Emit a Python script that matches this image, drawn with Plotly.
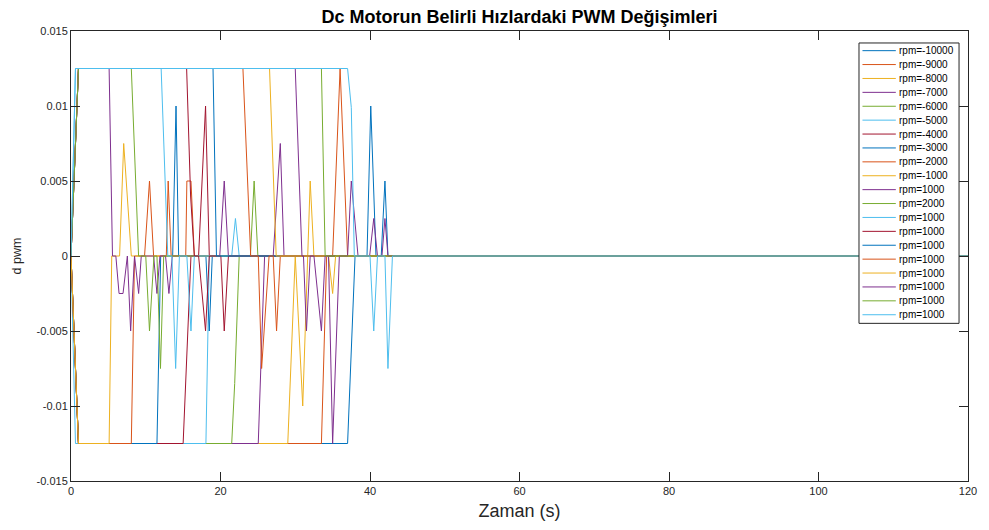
import plotly.graph_objects as go

# ---------------- data ----------------
names = ["rpm=-10000", "rpm=-9000", "rpm=-8000", "rpm=-7000", "rpm=-6000",
         "rpm=-5000", "rpm=-4000", "rpm=-3000", "rpm=-2000", "rpm=-1000",
         "rpm=1000", "rpm=2000", "rpm=1000", "rpm=1000", "rpm=1000",
         "rpm=1000", "rpm=1000", "rpm=1000", "rpm=1000", "rpm=1000"]

t_01 = [0, 1, 37.0, 38.0, 39.6, 40.1, 40.8, 41.5, 42.0, 42.4, 120]
d_01 = [0, -0.0125, -0.0125, 0, 0, 0.01, 0, 0, 0.005, 0, 0]

t_02 = [0, 1, 33.5, 34.2, 35.0, 36.0, 37.0, 120]
d_02 = [0, -0.0125, -0.0125, 0, 0, 0.0125, 0, 0]

t_03 = [0, 1, 29.0, 30.0, 31.0, 32.0, 32.5, 120]
d_03 = [0, -0.0125, -0.0125, 0, -0.01, 0.005, 0, 0]

t_04 = [0, 1, 25.05, 25.9, 27.05, 28.0, 28.5, 120]
d_04 = [0, -0.0125, -0.0125, 0, 0, 0.0075, 0, 0]

t_05 = [0, 1, 21.5, 21.9, 22.5, 24.0, 24.5, 25.0, 120]
d_05 = [0, -0.0125, -0.0125, -0.0085, 0, 0, 0.005, 0, 0]

t_06 = [0, 0.6, 18.05, 18.5, 21.5, 22.0, 22.5, 120]
d_06 = [0, -0.0125, -0.0125, 0, 0, 0.0025, 0, 0]

t_07 = [0, 1, 15.0, 16.05, 17.07, 18.0, 18.5, 120]
d_07 = [0, -0.0125, -0.0125, 0, 0, 0.01, 0, 0]

t_08 = [0, 1, 11.5, 12.0, 13.6, 14.05, 14.4, 18.05, 18.5, 18.9, 120]
d_08 = [0, -0.0125, -0.0125, 0, 0, 0.01, 0, 0, -0.005, 0, 0]

t_09 = [0, 1, 8.07, 8.5, 9.84, 10.5, 11.05, 12.75, 13.0, 13.4, 15.35, 15.5, 16.05, 16.5, 120]
d_09 = [0, -0.0125, -0.0125, 0, 0, 0.005, 0, 0, 0.005, 0, 0, 0.005, 0.005, 0, 0]

t_10 = [0, 1, 5.1, 5.45, 6.5, 7.05, 8.07, 120]
d_10 = [0, -0.0125, -0.0125, 0, 0, 0.0075, 0, 0]

t_11 = [0, 1, 5.1, 5.55, 6.0, 6.43, 6.96, 7.54, 7.98, 8.5, 9.05, 9.4, 11.05, 11.5,
        11.9, 12.65, 13.1, 13.55, 19.9, 20.5, 21.05, 120]
d_11 = [0, 0.0125, 0.0125, 0, 0, -0.0025, -0.0025, 0, -0.005, 0, -0.0025, 0, 0, -0.0025,
        0, 0, -0.0025, 0, 0, 0.005, 0, 0]

t_12 = [0, 1, 8.07, 9.04, 10.0, 10.5, 11.1, 11.5, 11.97, 12.4, 120]
d_12 = [0, 0.0125, 0.0125, 0, 0, -0.005, 0, 0, -0.0075, 0, 0]

t_13 = [0, 0.6, 12.06, 12.95, 13.5, 14.0, 14.5, 15.5, 16.05, 16.5, 120]
d_13 = [0, 0.0125, 0.0125, 0, 0, -0.0075, 0, 0, -0.005, 0, 0]

t_14 = [0, 1, 15.47, 16.0, 16.5, 17.07, 18.0, 18.5, 20.05, 20.5, 21.06, 120]
d_14 = [0, 0.0125, 0.0125, 0.004, 0, 0, -0.005, 0, 0, -0.005, 0, 0]

t_15 = [0, 1, 19.0, 19.46, 120]
d_15 = [0, 0.0125, 0.0125, 0, 0]

t_16 = [0, 1, 23.0, 24.04, 25.05, 25.5, 26.5, 27.05, 27.5, 28.0, 120]
d_16 = [0, 0.0125, 0.0125, 0, 0, -0.0075, 0, 0, -0.005, 0, 0]

t_17 = [0, 1, 26.56, 27.45, 34.45, 35.0, 35.4, 120]
d_17 = [0, 0.0125, 0.0125, 0, 0, -0.0025, 0, 0]

t_18 = [0, 1, 30.0, 30.9, 31.1, 31.5, 32.0, 32.5, 33.5, 34.0, 34.45, 35.0, 35.9,
        37.0, 37.5, 38.4, 39.95, 40.5, 41.0, 41.6, 42.0, 42.4, 120]
d_18 = [0, 0.0125, 0.0125, 0, 0, -0.005, 0, 0, -0.005, 0, 0, -0.0125, 0,
        0, 0.005, 0, 0, 0.0025, 0, 0, 0.0025, 0, 0]

t_19 = [0, 1, 33.5, 34.0, 120]
d_19 = [0, 0.0125, 0.0125, 0, 0]

t_20 = [0, 0.6, 37.0, 37.5, 37.9, 40.0, 40.5, 41.0, 42.0, 42.4, 43.0, 120]
d_20 = [0, 0.0125, 0.0125, 0.0099, 0, 0, -0.005, 0, 0, -0.0075, 0, 0]

times = [t_01, t_02, t_03, t_04, t_05, t_06, t_07, t_08, t_09, t_10,
         t_11, t_12, t_13, t_14, t_15, t_16, t_17, t_18, t_19, t_20]
values = [d_01, d_02, d_03, d_04, d_05, d_06, d_07, d_08, d_09, d_10,
          d_11, d_12, d_13, d_14, d_15, d_16, d_17, d_18, d_19, d_20]

x_ticks = [0, 20, 40, 60, 80, 100, 120]
y_ticks = [-0.015, -0.01, -0.005, 0, 0.005, 0.01, 0.015]
y_tick_text = ["-0.015", "-0.01", "-0.005", "0", "0.005", "0.01", "0.015"]

# ---------------- styling ----------------
palette = ["#0072BD", "#D95319", "#EDB120", "#7E2F8E", "#77AC30", "#4DBEEE", "#A2142F"]
FONT = "Liberation Sans, Arial, Helvetica, sans-serif"
AX = "#262626"

W, H = 989, 530
ML, MR, MT, MB = 71, 17, 31, 48
PW, PH = W - ML - MR, H - MT - MB


def px_x(px):
    return (px - ML) / PW


def px_y(py):
    return (H - MB - py) / PH


fig = go.Figure()
for i, (tt, dd) in enumerate(zip(times, values)):
    fig.add_trace(go.Scatter(x=tt, y=dd, mode="lines", name=names[i],
                             line=dict(color=palette[i % 7], width=1),
                             showlegend=False))

# manual MATLAB-style legend (compact rows)
LX0, LX1, LY0, LY1 = 862.5, 963.0, 43, 324
ROW0, ROWSTEP = 50.7, 13.93
SX0, SX1, TX = 866, 899.5, 901.5
shapes = [dict(type="rect", xref="paper", yref="paper",
               x0=px_x(LX0), x1=px_x(LX1), y0=px_y(LY1), y1=px_y(LY0),
               line=dict(color=AX, width=1), fillcolor="white", layer="above")]
annotations = []
for i, nm in enumerate(names):
    yy = px_y(ROW0 + i * ROWSTEP)
    shapes.append(dict(type="line", xref="paper", yref="paper",
                       x0=px_x(SX0), x1=px_x(SX1), y0=yy, y1=yy,
                       line=dict(color=palette[i % 7], width=1), layer="above"))
    annotations.append(dict(xref="paper", yref="paper", x=px_x(TX), y=yy,
                            xanchor="left", yanchor="middle", showarrow=False,
                            text=nm, font=dict(family=FONT, size=10, color="#000000"),
                            borderpad=0))

fig.update_layout(
    width=W, height=H,
    margin=dict(l=ML, r=MR, t=MT, b=MB, pad=0),
    paper_bgcolor="white", plot_bgcolor="white",
    font=dict(family=FONT, color=AX),
    title=dict(text="<b>Dc Motorun Belirli Hızlardaki PWM Değişimleri</b>",
               x=0.5, xref="paper", xanchor="center",
               y=1 - 17 / H, yref="container", yanchor="middle",
               font=dict(family=FONT, size=18, color="#000000")),
    shapes=shapes,
    annotations=annotations,
    showlegend=False,
)
fig.update_xaxes(range=[0, 120], tickmode="array", tickvals=x_ticks,
                 ticks="inside", ticklen=9, tickwidth=1, tickcolor=AX,
                 showline=True, linecolor=AX, linewidth=1, mirror="ticks",
                 showgrid=False, zeroline=False,
                 tickfont=dict(family=FONT, size=11, color=AX),
                 title=dict(text="Zaman (s)", standoff=8,
                            font=dict(family=FONT, size=18, color=AX)))
fig.update_yaxes(range=[-0.015, 0.015], tickmode="array", tickvals=y_ticks,
                 ticktext=y_tick_text,
                 ticks="inside", ticklen=9, tickwidth=1, tickcolor=AX,
                 showline=True, linecolor=AX, linewidth=1, mirror="ticks",
                 showgrid=False, zeroline=False,
                 tickfont=dict(family=FONT, size=11, color=AX),
                 title=dict(text="d pwm", standoff=12,
                            font=dict(family=FONT, size=12.5, color=AX)))

fig.write_html("out.html")
